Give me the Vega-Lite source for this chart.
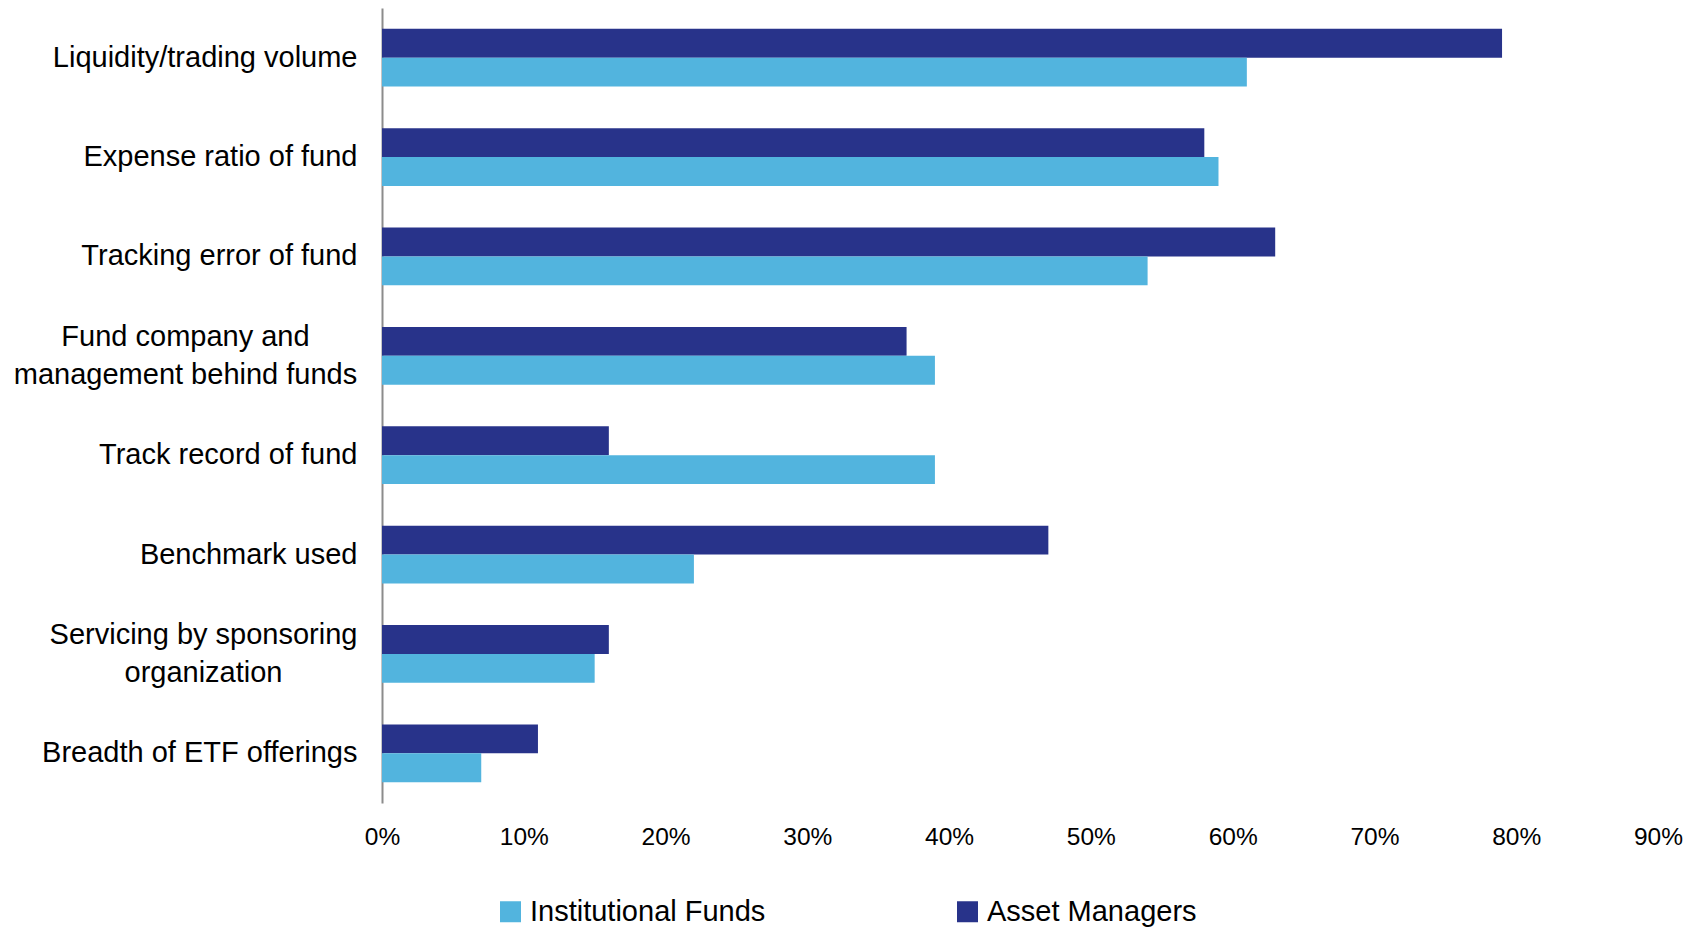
{
  "$schema": "https://vega.github.io/schema/vega-lite/v6.json",
  "autosize": {"type": "none"},
  "padding": {"left": 382, "top": 8, "right": 41, "bottom": 126},
  "width": 1276,
  "height": 795,
  "background": "white",
  "data": {
    "values": [
      {"factor": "Liquidity/trading volume", "series": "Asset Managers", "value": 0.79},
      {"factor": "Liquidity/trading volume", "series": "Institutional Funds", "value": 0.61},
      {"factor": "Expense ratio of fund", "series": "Asset Managers", "value": 0.58},
      {"factor": "Expense ratio of fund", "series": "Institutional Funds", "value": 0.59},
      {"factor": "Tracking error of fund", "series": "Asset Managers", "value": 0.63},
      {"factor": "Tracking error of fund", "series": "Institutional Funds", "value": 0.54},
      {"factor": "Fund company and|management behind funds", "series": "Asset Managers", "value": 0.37},
      {"factor": "Fund company and|management behind funds", "series": "Institutional Funds", "value": 0.39},
      {"factor": "Track record of fund", "series": "Asset Managers", "value": 0.16},
      {"factor": "Track record of fund", "series": "Institutional Funds", "value": 0.39},
      {"factor": "Benchmark used", "series": "Asset Managers", "value": 0.47},
      {"factor": "Benchmark used", "series": "Institutional Funds", "value": 0.22},
      {"factor": "Servicing by sponsoring|organization", "series": "Asset Managers", "value": 0.16},
      {"factor": "Servicing by sponsoring|organization", "series": "Institutional Funds", "value": 0.15},
      {"factor": "Breadth of ETF offerings", "series": "Asset Managers", "value": 0.11},
      {"factor": "Breadth of ETF offerings", "series": "Institutional Funds", "value": 0.07}
    ]
  },
  "mark": {"type": "bar"},
  "encoding": {
    "y": {
      "field": "factor",
      "type": "nominal",
      "sort": null,
      "scale": {"paddingInner": 0.42, "paddingOuter": 0.21},
      "axis": {
        "title": null,
        "ticks": false,
        "grid": false,
        "domain": true,
        "domainColor": "#8c8c8c",
        "domainWidth": 2,
        "labelFont": "Liberation Sans",
        "labelFontSize": 29,
        "labelColor": "#000000",
        "labelLimit": 0,
        "labelLineHeight": 38,
        "labelExpr": "split(datum.value, '|')",
        "labelAlign": {
          "condition": {"test": "indexof(datum.value, '|') >= 0", "value": "center"},
          "value": "right"
        },
        "labelPadding": {
          "condition": [
            {"test": "indexof(datum.value, 'Fund company') >= 0", "value": 197},
            {"test": "indexof(datum.value, 'Servicing') >= 0", "value": 179}
          ],
          "value": 25
        },
        "labelOffset": {
          "condition": {"test": "indexof(datum.value, '|') >= 0", "value": -19},
          "value": 0
        }
      }
    },
    "yOffset": {
      "field": "series",
      "type": "nominal",
      "sort": ["Asset Managers", "Institutional Funds"]
    },
    "x": {
      "field": "value",
      "type": "quantitative",
      "scale": {"domain": [0, 0.9], "nice": false},
      "axis": {
        "title": null,
        "values": [0, 0.1, 0.2, 0.3, 0.4, 0.5, 0.6, 0.7, 0.8, 0.9],
        "format": ".0%",
        "ticks": false,
        "grid": false,
        "domain": false,
        "labelFont": "Liberation Sans",
        "labelFontSize": 24.5,
        "labelColor": "#000000",
        "labelPadding": 22,
        "labelFlush": false,
        "labelOverlap": false
      }
    },
    "color": {
      "field": "series",
      "type": "nominal",
      "scale": {
        "domain": ["Institutional Funds", "Asset Managers"],
        "range": ["#52b4de", "#28338a"]
      },
      "legend": {
        "title": null,
        "orient": "none",
        "direction": "horizontal",
        "legendX": 114,
        "legendY": 889,
        "symbolType": "square",
        "symbolSize": 441,
        "symbolStrokeWidth": 0,
        "symbolOpacity": 1,
        "labelFont": "Liberation Sans",
        "labelFontSize": 29,
        "labelColor": "#000000",
        "labelOffset": 5,
        "labelLimit": 0,
        "columnPadding": 187
      }
    }
  },
  "config": {"view": {"stroke": null}}
}
